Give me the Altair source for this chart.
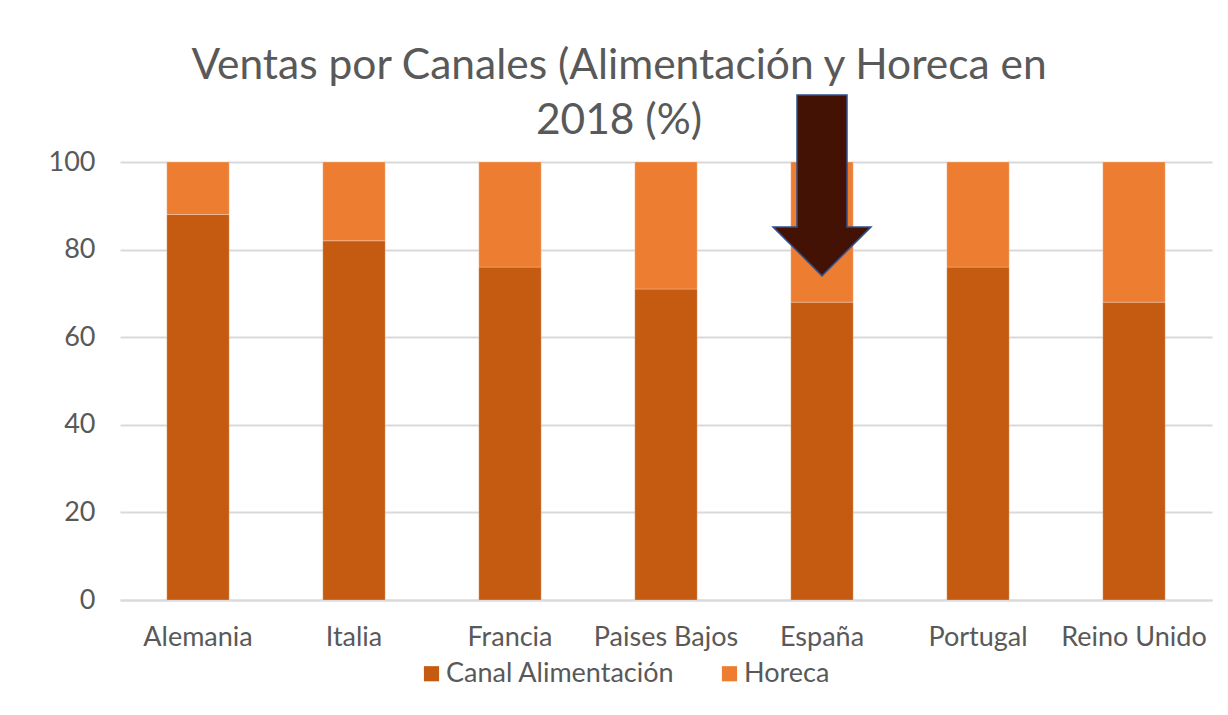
import altair as alt
import pandas as pd

countries = ["Alemania", "Italia", "Francia", "Paises Bajos", "España", "Portugal", "Reino Unido"]
alimentacion = [88, 82, 76, 71, 68, 76, 68]
horeca = [12, 18, 24, 29, 32, 24, 32]
series = ["Canal Alimentación", "Horeca"]
colors = ["#C55A11", "#ED7D31"]

rows = []
for c, a, h in zip(countries, alimentacion, horeca):
    rows.append({"pais": c, "canal": series[0], "valor": a, "orden": 0})
    rows.append({"pais": c, "canal": series[1], "valor": h, "orden": 1})
df = pd.DataFrame(rows)

FONT = "Lato"
TXT = "#595959"

bars = alt.Chart(df).mark_bar(stroke="white", strokeWidth=0.5, strokeOpacity=0.5).encode(
    x=alt.X("pais:N", sort=countries, title=None,
            scale=alt.Scale(paddingInner=0.6, paddingOuter=0.3),
            axis=alt.Axis(labelAngle=0, labelFontSize=27, labelColor=TXT, labelFont=FONT,
                          labelPadding=24, ticks=False, domainColor="#D9D9D9", domainWidth=2,
                          grid=False, labelLimit=300)),
    y=alt.Y("valor:Q", stack="zero", title=None,
            scale=alt.Scale(domain=[0, 100], nice=False),
            axis=alt.Axis(values=[0, 20, 40, 60, 80, 100], labelFontSize=27, labelColor=TXT,
                          labelFont=FONT, labelPadding=25, ticks=False, domain=False,
                          gridColor="#D9D9D9", gridWidth=2)),
    color=alt.Color("canal:N", scale=alt.Scale(domain=series, range=colors),
                    legend=alt.Legend(title=None, orient="none", direction="horizontal",
                                      legendX=298, legendY=498, symbolType="square",
                                      symbolSize=230, labelFontSize=27, labelColor=TXT,
                                      labelFont=FONT, columnPadding=41, labelOffset=1,
                                      symbolStrokeWidth=0, labelLimit=400)),
    order=alt.Order("orden:Q"),
)

arrow_df = pd.DataFrame({"pais": ["España"], "tip": [74]})
arrow_path = ("M 0 0 L -0.49 -0.49 L -0.25 -0.49 L -0.25 -1.81 "
              "L 0.25 -1.81 L 0.25 -0.49 L 0.49 -0.49 Z")
arrow = alt.Chart(arrow_df).mark_point(
    shape=arrow_path, size=40000, filled=True, fill="#431204", fillOpacity=1,
    stroke="#2F528F", strokeWidth=1.5, opacity=1, clip=False
).encode(
    x=alt.X("pais:N", sort=countries),
    y=alt.Y("tip:Q"),
)

chart = alt.layer(bars, arrow).properties(
    width=1092,
    height=438,
    title=alt.TitleParams(
        text=["Ventas por Canales (Alimentación y Horeca en", "2018 (%)"],
        fontSize=42.5, font=FONT, color=TXT, fontWeight="normal",
        anchor="middle", frame="group", dx=-47, offset=-51, lineHeight=55,
    ),
    autosize=alt.AutoSizeParams(type="none"),
    padding={"left": 112, "top": 154, "right": 8, "bottom": 90},
).configure_view(stroke=None)

chart.save("out.html", embed_options={"renderer": "svg", "actions": False})
